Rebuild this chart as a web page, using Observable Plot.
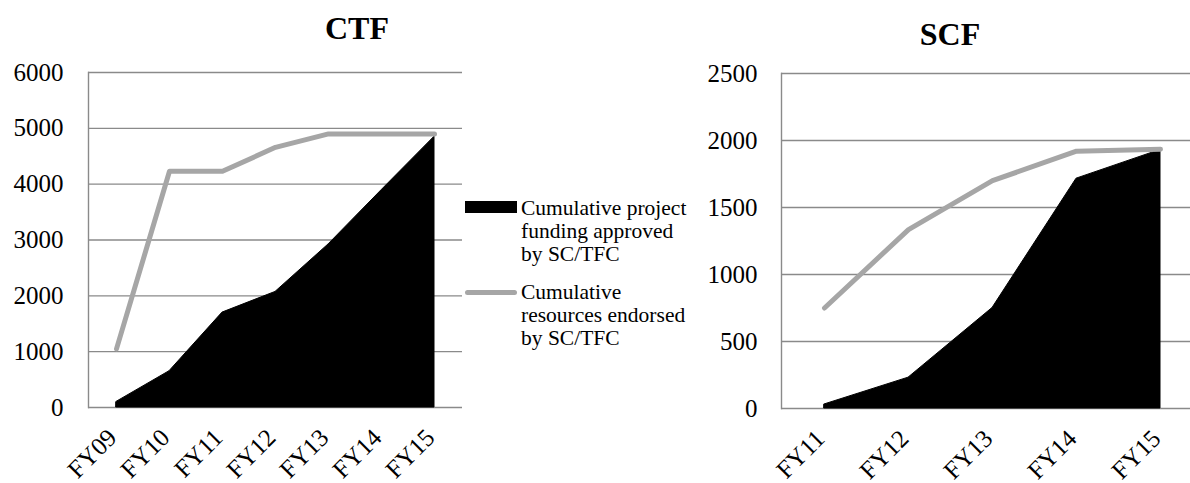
<!DOCTYPE html>
<html><head><meta charset="utf-8">
<script src="https://cdn.jsdelivr.net/npm/d3@7"></script>
<script src="https://cdn.jsdelivr.net/npm/@observablehq/plot@0.6"></script>
<style>
html,body{margin:0;padding:0;background:#fff;overflow:hidden;}
#wrap{position:relative;width:1190px;height:483px;overflow:hidden;font-family:"Liberation Serif","Times New Roman",serif;}
#wrap svg text{font-family:"Liberation Serif","Times New Roman",serif !important;font-variant:normal !important;}
.abs{position:absolute;}
.title{font-weight:bold;font-size:32px;line-height:1;text-align:center;width:200px;color:#000;}
.leg{font-size:21.5px;line-height:23px;color:#000;white-space:nowrap;}
</style></head>
<body><div id="wrap"></div>
<script>
// CTF data
const ctfYears = ["FY09","FY10","FY11","FY12","FY13","FY14","FY15"];
const ctfApproved = [100, 650, 1700, 2070, 2920, 3890, 4850];
const ctfEndorsed = [1050, 4230, 4230, 4660, 4900, 4900, 4900];
const ctfTicks = [0, 1000, 2000, 3000, 4000, 5000, 6000];
// SCF data
const scfYears = ["FY11","FY12","FY13","FY14","FY15"];
const scfApproved = [30, 230, 750, 1715, 1930];
const scfEndorsed = [750, 1335, 1700, 1920, 1935];
const scfTicks = [0, 500, 1000, 1500, 2000, 2500];
// legend / titles
const titles = ["CTF", "SCF"];
const legendLabels = ["Cumulative project\nfunding approved\nby SC/TFC", "Cumulative\nresources endorsed\nby SC/TFC"];

const GRID = "#8a8a8a";
const LINEC = "#a6a6a6";
const FONT = "\"Liberation Serif\",\"Times New Roman\",serif";

function chart(years, approved, endorsed, ticks, opts) {
  return Plot.plot({
    width: opts.width, height: 483,
    marginLeft: opts.ml, marginRight: opts.mr, marginTop: opts.mt, marginBottom: opts.mb,
    style: {fontFamily: FONT, fontSize: "25px", color: "#000", background: "transparent", overflow: "visible"},
    x: {type: "point", domain: years, padding: 0.5, align: 0.5, label: null},
    y: {domain: [ticks[0], ticks[ticks.length - 1]], label: null},
    marks: [
      Plot.gridY(ticks, {stroke: GRID, strokeOpacity: 1, strokeWidth: 1.4}),
      Plot.frame({anchor: "left", stroke: GRID, strokeOpacity: 1, strokeWidth: 1.4}),
      Plot.areaY(years, {x: years, y: approved, fill: "#000", stroke: "#000", strokeWidth: 1}),
      Plot.lineY(years, {x: years, y: endorsed, stroke: LINEC, strokeWidth: 5, strokeLinejoin: "round", strokeLinecap: "round"}),
      Plot.axisY(ticks, {tickSize: 0, tickPadding: opts.tp, fontSize: 25, fontFamily: FONT, tickFormat: d => String(d), label: null}),
      Plot.axisX(years, {tickSize: 0, tickRotate: -45, tickPadding: 24, dx: -4, dy: 2, fontSize: 25, fontFamily: FONT, label: null})
    ]
  });
}

const wrap = document.getElementById("wrap");

const c1 = chart(ctfYears, ctfApproved, ctfEndorsed, ctfTicks, {width: 470, ml: 88, mr: 8, mt: 72, mb: 76, tp: 25});
c1.style.position = "absolute"; c1.style.left = "0px"; c1.style.top = "0px";
wrap.appendChild(c1);

const c2 = chart(scfYears, scfApproved, scfEndorsed, scfTicks, {width: 520, ml: 91, mr: 8, mt: 73, mb: 75, tp: 24});
c2.style.position = "absolute"; c2.style.left = "690px"; c2.style.top = "0px";
wrap.appendChild(c2);

function addDiv(cls, text, left, top, extra) {
  const d = document.createElement("div");
  d.className = "abs " + cls;
  d.style.left = left + "px"; d.style.top = top + "px";
  if (extra) Object.assign(d.style, extra);
  d.innerHTML = text;
  wrap.appendChild(d);
  return d;
}
addDiv("title", titles[0], 257, 12);
addDiv("title", titles[1], 850, 18);

// legend
addDiv("", "", 465, 201, {width: "52px", height: "12px", background: "#000"});
addDiv("", "", 465, 290, {width: "52px", height: "5px", background: LINEC, borderRadius: "2.5px"});
addDiv("leg", legendLabels[0].split("\n").join("<br>"), 521, 197);
addDiv("leg", legendLabels[1].split("\n").join("<br>"), 521, 281);
</script></body></html>
